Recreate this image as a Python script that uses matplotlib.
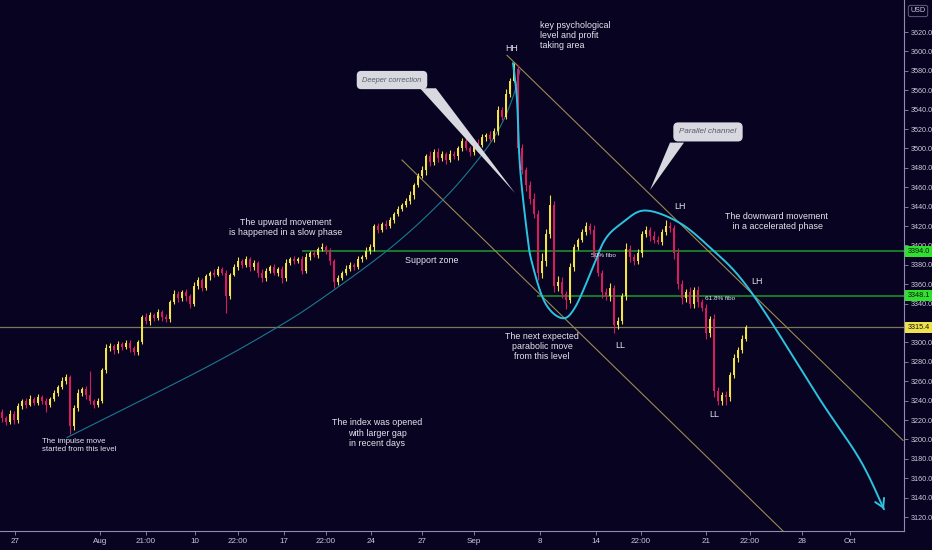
import numpy as np
import matplotlib
matplotlib.use("Agg")
import matplotlib.pyplot as plt
import matplotlib.transforms as mtransforms
from matplotlib.patches import Polygon

plt.rcParams['font.family'] = ['Liberation Sans', 'DejaVu Sans']

# ---- data ----
first_open = 3228
closes = [
    3222, 3218, 3226, 3220, 3234, 3240, 3236, 3242, 3238, 3244,
    3240, 3236, 3242, 3248, 3254, 3260, 3264, 3214, 3232, 3248,
    3252, 3246, 3240, 3236, 3240, 3272, 3294, 3296, 3292, 3298,
    3295, 3299, 3294, 3290, 3300, 3326, 3322, 3328, 3325, 3331,
    3326, 3324, 3342, 3350, 3346, 3352, 3348, 3340, 3358, 3364,
    3356, 3368, 3372, 3370, 3376, 3372, 3348, 3370, 3378, 3384,
    3380, 3386, 3378, 3382, 3372, 3366, 3374, 3378, 3372, 3376,
    3366, 3382, 3386, 3384, 3386, 3374, 3388, 3392, 3390, 3396,
    3398, 3394, 3384, 3362, 3366, 3372, 3376, 3380, 3378, 3386,
    3388, 3394, 3398, 3420, 3416, 3422, 3420, 3426, 3432, 3438,
    3442, 3446, 3452, 3462, 3472, 3478, 3492, 3486, 3496, 3490,
    3494, 3488, 3494, 3492, 3500, 3508, 3500, 3496, 3506, 3504,
    3512, 3514, 3510, 3518, 3540, 3532, 3556, 3570, 3582, 3500,
    3478, 3462, 3448, 3432, 3372, 3384, 3412, 3442, 3358, 3362,
    3350, 3344, 3378, 3398, 3406, 3414, 3420, 3416, 3392, 3372,
    3352, 3348, 3356, 3318, 3322, 3348, 3396, 3388, 3384, 3392,
    3412, 3416, 3410, 3406, 3404, 3414, 3420, 3418, 3392, 3360,
    3346, 3352, 3340, 3354, 3342, 3336, 3310, 3324, 3250, 3240,
    3246, 3244, 3266, 3284, 3292, 3304, 3315.4,
]
wick_up = [
    3, 2, 4, 3, 4, 2, 3, 4, 2, 3,
    2, 3, 2, 3, 2, 4, 3, 2, 3, 4,
    2, 3, 25, 2, 3, 2, 4, 3, 2, 3,
    2, 4, 3, 2, 3, 2, 4, 3, 2, 3,
    2, 3, 2, 4, 3, 2, 3, 2, 4, 3,
    2, 3, 2, 4, 3, 2, 3, 2, 3, 4,
    2, 3, 2, 3, 2, 4, 3, 2, 3, 2,
    3, 4, 2, 3, 2, 3, 4, 2, 3, 2,
    4, 2, 3, 2, 3, 2, 4, 3, 2, 3,
    2, 4, 3, 2, 3, 2, 4, 3, 2, 3,
    2, 3, 4, 2, 3, 4, 2, 5, 3, 4,
    3, 2, 4, 3, 2, 3, 4, 2, 3, 4,
    3, 2, 4, 3, 4, 3, 5, 3, 6, 4,
    5, 3, 4, 6, 4, 8, 5, 10, 4, 6,
    5, 3, 4, 3, 2, 3, 4, 3, 5, 4,
    3, 4, 5, 3, 4, 3, 6, 4, 3, 4,
    3, 4, 3, 5, 4, 3, 6, 4, 3, 5,
    4, 3, 5, 3, 4, 3, 4, 3, 5, 4,
    3, 4, 3, 4, 3, 4, 3,
]
wick_dn = [
    4, 3, 2, 4, 3, 3, 4, 2, 3, 3,
    3, 8, 3, 2, 3, 2, 3, 8, 4, 3,
    3, 4, 3, 4, 3, 2, 4, 3, 4, 3,
    3, 2, 4, 3, 3, 2, 3, 4, 3, 2,
    4, 3, 3, 2, 4, 3, 5, 4, 2, 3,
    3, 2, 4, 3, 2, 3, 18, 3, 2, 3,
    3, 2, 4, 3, 5, 4, 3, 2, 3, 4,
    5, 3, 2, 3, 2, 3, 2, 3, 2, 3,
    2, 3, 4, 6, 3, 2, 3, 2, 3, 2,
    3, 2, 3, 4, 3, 2, 3, 2, 3, 2,
    3, 2, 3, 4, 2, 3, 5, 4, 3, 4,
    3, 4, 2, 3, 4, 3, 2, 4, 3, 2,
    3, 4, 2, 3, 4, 3, 2, 3, 2, 5,
    4, 6, 5, 4, 8, 6, 5, 4, 6, 5,
    4, 10, 3, 4, 3, 2, 3, 4, 5, 4,
    6, 4, 5, 8, 4, 3, 4, 5, 4, 3,
    4, 3, 5, 4, 3, 4, 3, 4, 6, 5,
    6, 4, 5, 4, 5, 4, 6, 4, 6, 5,
    4, 8, 4, 3, 4, 3, 3,
]

tick_pos = [3.25, 24.5, 36, 48.25, 59, 70.5, 81, 92.25, 105, 118,
            134.5, 148.5, 159.75, 176, 187, 200, 212]
tick_lbl = ['27', 'Aug', '21:00', '10', '22:00', '17', '22:00', '24', '27', 'Sep',
            '8', '14', '22:00', '21', '22:00', '28', 'Oct']

support_lvl = 3394.0
fibo_lvl = 3348.1
last_price = closes[-1]

# hand drawn curves (bar index, price)
wave_x = [127.75, 128.75, 129.5, 131.25, 132.5, 135.75, 140, 143.25, 147.5, 150.75,
          155, 160.75, 169.5, 177.75, 184.5, 192, 204.5, 214.5, 220.5]
wave_y = [3588, 3550, 3481, 3413, 3382, 3341, 3325, 3336, 3375, 3406,
          3423, 3436, 3423, 3395, 3367, 3323, 3241, 3179, 3128]
arc_x = [16.25, 49.5, 67.75, 79.5, 97, 110.25, 119.5, 124.5, 127.75, 129.5]
arc_y = [3202, 3271, 3313, 3344, 3397, 3447, 3491, 3522, 3553, 3581]
chan_up = [(126.25, 3596), (225.25, 3199)]
chan_lo = [(100, 3488), (195.25, 3105.6)]

BG = '#070320'
UP = '#f2e443'
DOWN = '#d81d5c'
TXT = '#e6e6f0'
AXC = '#cccadd'


def catmull(xs, ys, n=25):
    pts = np.column_stack([xs, ys]).astype(float)
    pts = np.vstack([pts[0], pts, pts[-1]])
    out = []
    t = np.linspace(0, 1, n)[:, None]
    for k in range(1, len(pts) - 2):
        p0, p1, p2, p3 = pts[k - 1:k + 3]
        seg = 0.5 * (2 * p1 + (-p0 + p2) * t + (2 * p0 - 5 * p1 + 4 * p2 - p3) * t ** 2
                     + (-p0 + 3 * p1 - 3 * p2 + p3) * t ** 3)
        out.append(seg)
    return np.vstack(out)


fig = plt.figure(figsize=(9.32, 5.5), dpi=100, facecolor=BG)
ax = fig.add_axes([0, 19 / 550, 904 / 932, 531 / 550], facecolor=BG)
ax.set_xlim(-0.5, 225.5)
ax.set_ylim(3105.6, 3653.0)

# candles
idx = np.arange(len(closes))
c = np.array(closes, dtype=float)
o = np.concatenate([[first_open], c[:-1]])
hi = np.maximum(o, c) + np.array(wick_up)
lo = np.minimum(o, c) - np.array(wick_dn)
cols = [UP if cc >= oo else DOWN for oo, cc in zip(o, c)]
ax.vlines(idx, lo, hi, colors=cols, lw=0.8, zorder=3)
body = np.maximum(np.abs(c - o), 0.8)
ax.bar(idx, body, bottom=np.minimum(o, c), width=0.5, color=cols, zorder=4)

# levels
ax.axhline(last_price, color='#7a785c', lw=0.9, zorder=2)
ax.hlines(support_lvl, 75, 225.5, color='#1e9a2c', lw=1.1, zorder=2)
ax.hlines(fibo_lvl, 133.75, 225.5, color='#1e9a2c', lw=1.1, zorder=2)

# channel
for ln in (chan_up, chan_lo):
    ax.plot([ln[0][0], ln[1][0]], [ln[0][1], ln[1][1]], color='#9a8a52', lw=0.8, zorder=2)

# slow arc
arc = catmull(arc_x, arc_y)
ax.plot(arc[:, 0], arc[:, 1], color='#1b7892', lw=0.8, zorder=2)

# projected wave
wv = catmull(wave_x, wave_y)
ax.plot(wv[:, 0], wv[:, 1], color='#2bc3df', lw=1.4, zorder=5, solid_capstyle='round')
ax.annotate('', xy=tuple(wv[-1]), xytext=tuple(wv[-3]),
            arrowprops=dict(arrowstyle='->,head_length=0.6,head_width=0.35',
                            color='#2bc3df', lw=1.4, shrinkA=0, shrinkB=0), zorder=5)

# callouts
box_fc = '#d8d8e0'
ax.add_patch(Polygon([(104.5, 3562), (108.5, 3562), (128.25, 3454)], closed=True,
                     fc=box_fc, ec='none', zorder=6))
ax.text(97.5, 3570.5, 'Deeper correction', fontsize=5.4, style='italic', color='#5a5a66',
        ha='center', va='center', zorder=7,
        bbox=dict(boxstyle='round,pad=0.75,rounding_size=0.6', fc=box_fc, ec='none'))
ax.add_patch(Polygon([(167, 3506), (170.5, 3506), (162, 3457)], closed=True,
                     fc=box_fc, ec='none', zorder=6))
ax.text(176.5, 3517, 'Parallel channel', fontsize=5.8, style='italic', color='#5a5a66',
        ha='center', va='center', zorder=7,
        bbox=dict(boxstyle='round,pad=0.75,rounding_size=0.6', fc=box_fc, ec='none'))


# notes
def note(x, y, s, size=6.4, ha='center', va='center'):
    ax.text(x, y, s, fontsize=size, color=TXT, ha=ha, va=va, linespacing=1.15, zorder=8)


note(127.5, 3603.5, 'HH')
note(134.5, 3631, 'key psychological\nlevel and profit\ntaking area', ha='left', va='top')
note(169.5, 3440, 'LH')
note(193.5, 3425, 'The downward movement\n in a accelerated phase')
note(188.75, 3363, 'LH')
note(71, 3418, 'The upward movement\nis happened in a slow phase')
note(107.5, 3384, 'Support zone')
note(150.25, 3390, '50% fibo', size=4.6)
note(179.5, 3345, '61.8% fibo', size=4.6)
note(135, 3296, 'The next expected\nparabolic move\nfrom this level')
note(154.5, 3297, 'LL')
note(178, 3226, 'LL')
note(10, 3194, 'The impulse move\nstarted from this level', size=5.6, ha='left')
note(93.75, 3206.6, 'The index was opened\nwith larger gap\nin recent days')

# axes styling
for side in ('left', 'top'):
    ax.spines[side].set_visible(False)
for side in ('right', 'bottom'):
    ax.spines[side].set_color('#8e8cb4')
    ax.spines[side].set_linewidth(0.8)
ax.yaxis.tick_right()
yt = np.arange(3120, 3621, 20)
ax.set_yticks(yt)
# the 3320 label sits fully under the last-price tag, as on the original
ax.set_yticklabels(['' if v == 3320 else f'{v:.1f}' for v in yt])
ax.set_xticks(tick_pos)
ax.set_xticklabels(tick_lbl)
ax.tick_params(axis='both', colors='#8e8cb4', labelcolor=AXC, length=3, width=0.6, pad=2)
ax.tick_params(axis='y', labelsize=5.2)
ax.tick_params(axis='x', labelsize=5.8)

trans = mtransforms.blended_transform_factory(ax.transAxes, ax.transData)
for lvl, fc in ((support_lvl, '#2fe02f'), (fibo_lvl, '#2fe02f'), (last_price, '#f0e24a')):
    ax.text(1.004, lvl, f'{lvl:.1f}', transform=trans, fontsize=5.2, color='#111111',
            ha='left', va='center', clip_on=False, zorder=10,
            bbox=dict(boxstyle='square,pad=0.3', fc=fc, ec='none'))

fig.text(918 / 932, 1 - 11 / 550, 'USD', fontsize=5.2, color=AXC, ha='center', va='center',
         bbox=dict(boxstyle='round,pad=0.3', fc=BG, ec='#6e6c90', lw=0.6))

fig.savefig('out.png', dpi=100, facecolor=BG)
